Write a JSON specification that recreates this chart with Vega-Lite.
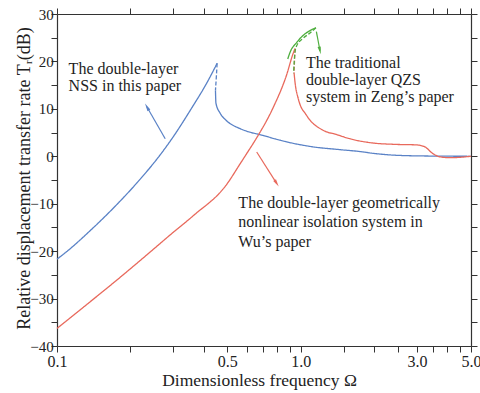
{
  "$schema": "https://vega.github.io/schema/vega-lite/v6.json",
  "width": 414,
  "height": 332,
  "autosize": {"type": "none"},
  "padding": {"left": 57, "top": 14, "right": 9, "bottom": 47},
  "background": "white",
  "config": {
    "view": {"stroke": null},
    "font": "Times New Roman, Liberation Serif, DejaVu Serif, serif",
    "axis": {"grid": false, "domainColor": "#333", "tickColor": "#333", "domainWidth": 1.2, "tickWidth": 1, "labelColor": "#222", "titleColor": "#222", "labelFont": "Times New Roman, Liberation Serif, DejaVu Serif, serif", "titleFont": "Times New Roman, Liberation Serif, DejaVu Serif, serif", "titleFontWeight": "normal"}
  },
  "datasets": {
    "curves": [
      {"curve": "NSS", "seg": "b1", "style": "solid", "order": 1, "omega": 0.1, "value": -21.7},
      {"curve": "NSS", "seg": "b1", "style": "solid", "order": 2, "omega": 0.1112, "value": -19.83},
      {"curve": "NSS", "seg": "b1", "style": "solid", "order": 3, "omega": 0.137, "value": -15.65},
      {"curve": "NSS", "seg": "b1", "style": "solid", "order": 4, "omega": 0.1733, "value": -10.53},
      {"curve": "NSS", "seg": "b1", "style": "solid", "order": 5, "omega": 0.213, "value": -5.58},
      {"curve": "NSS", "seg": "b1", "style": "solid", "order": 6, "omega": 0.265, "value": 0.29},
      {"curve": "NSS", "seg": "b1", "style": "solid", "order": 7, "omega": 0.3, "value": 4.12},
      {"curve": "NSS", "seg": "b1", "style": "solid", "order": 8, "omega": 0.355, "value": 9.97},
      {"curve": "NSS", "seg": "b1", "style": "solid", "order": 9, "omega": 0.413, "value": 15.57},
      {"curve": "NSS", "seg": "b1", "style": "solid", "order": 10, "omega": 0.454, "value": 19.6},
      {"curve": "NSS", "seg": "b2", "style": "dash", "order": 11, "omega": 0.454, "value": 19.6},
      {"curve": "NSS", "seg": "b2", "style": "dash", "order": 12, "omega": 0.451, "value": 17.0},
      {"curve": "NSS", "seg": "b2", "style": "dash", "order": 13, "omega": 0.447, "value": 13.9},
      {"curve": "NSS", "seg": "b3", "style": "solid", "order": 14, "omega": 0.447, "value": 13.9},
      {"curve": "NSS", "seg": "b3", "style": "solid", "order": 15, "omega": 0.449, "value": 11.2},
      {"curve": "NSS", "seg": "b3", "style": "solid", "order": 16, "omega": 0.467, "value": 9.1},
      {"curve": "NSS", "seg": "b3", "style": "solid", "order": 17, "omega": 0.494, "value": 7.6},
      {"curve": "NSS", "seg": "b3", "style": "solid", "order": 18, "omega": 0.56, "value": 5.9},
      {"curve": "NSS", "seg": "b3", "style": "solid", "order": 19, "omega": 0.6, "value": 5.3},
      {"curve": "NSS", "seg": "b3", "style": "solid", "order": 20, "omega": 0.7, "value": 4.4},
      {"curve": "NSS", "seg": "b3", "style": "solid", "order": 21, "omega": 0.82, "value": 3.4},
      {"curve": "NSS", "seg": "b3", "style": "solid", "order": 22, "omega": 1.12, "value": 2.0},
      {"curve": "NSS", "seg": "b3", "style": "solid", "order": 23, "omega": 1.45, "value": 1.4},
      {"curve": "NSS", "seg": "b3", "style": "solid", "order": 24, "omega": 1.75, "value": 1.0},
      {"curve": "NSS", "seg": "b3", "style": "solid", "order": 25, "omega": 2.0, "value": 0.6},
      {"curve": "NSS", "seg": "b3", "style": "solid", "order": 26, "omega": 2.5, "value": 0.2},
      {"curve": "NSS", "seg": "b3", "style": "solid", "order": 27, "omega": 3.4, "value": 0.05},
      {"curve": "NSS", "seg": "b3", "style": "solid", "order": 28, "omega": 5.0, "value": 0.0},
      {"curve": "Wu", "seg": "r1", "style": "solid", "order": 1, "omega": 0.1, "value": -36.3},
      {"curve": "Wu", "seg": "r1", "style": "solid", "order": 2, "omega": 0.1285, "value": -31.8},
      {"curve": "Wu", "seg": "r1", "style": "solid", "order": 3, "omega": 0.176, "value": -26.1},
      {"curve": "Wu", "seg": "r1", "style": "solid", "order": 4, "omega": 0.241, "value": -20.2},
      {"curve": "Wu", "seg": "r1", "style": "solid", "order": 5, "omega": 0.291, "value": -16.6},
      {"curve": "Wu", "seg": "r1", "style": "solid", "order": 6, "omega": 0.363, "value": -12.5},
      {"curve": "Wu", "seg": "r1", "style": "solid", "order": 7, "omega": 0.4975, "value": -5.9},
      {"curve": "Wu", "seg": "r1", "style": "solid", "order": 8, "omega": 0.564, "value": -1.6},
      {"curve": "Wu", "seg": "r1", "style": "solid", "order": 9, "omega": 0.601, "value": 0.6},
      {"curve": "Wu", "seg": "r1", "style": "solid", "order": 10, "omega": 0.66, "value": 3.9},
      {"curve": "Wu", "seg": "r1", "style": "solid", "order": 11, "omega": 0.77, "value": 10.2},
      {"curve": "Wu", "seg": "r1", "style": "solid", "order": 12, "omega": 0.876, "value": 17.2},
      {"curve": "Wu", "seg": "r1", "style": "solid", "order": 13, "omega": 0.93, "value": 21.6},
      {"curve": "Wu", "seg": "r1", "style": "solid", "order": 14, "omega": 0.948, "value": 22.7},
      {"curve": "Wu", "seg": "r2", "style": "dash", "order": 15, "omega": 0.948, "value": 22.7},
      {"curve": "Wu", "seg": "r2", "style": "dash", "order": 16, "omega": 0.939, "value": 17.7},
      {"curve": "Wu", "seg": "r3", "style": "solid", "order": 17, "omega": 0.939, "value": 17.7},
      {"curve": "Wu", "seg": "r3", "style": "solid", "order": 18, "omega": 0.948, "value": 15.6},
      {"curve": "Wu", "seg": "r3", "style": "solid", "order": 19, "omega": 0.978, "value": 12.1},
      {"curve": "Wu", "seg": "r3", "style": "solid", "order": 20, "omega": 1.058, "value": 8.6},
      {"curve": "Wu", "seg": "r3", "style": "solid", "order": 21, "omega": 1.234, "value": 5.5},
      {"curve": "Wu", "seg": "r3", "style": "solid", "order": 22, "omega": 1.4, "value": 4.6},
      {"curve": "Wu", "seg": "r3", "style": "solid", "order": 23, "omega": 1.59, "value": 3.7},
      {"curve": "Wu", "seg": "r3", "style": "solid", "order": 24, "omega": 1.98, "value": 2.8},
      {"curve": "Wu", "seg": "r3", "style": "solid", "order": 25, "omega": 2.48, "value": 2.5},
      {"curve": "Wu", "seg": "r3", "style": "solid", "order": 26, "omega": 2.99, "value": 2.4},
      {"curve": "Wu", "seg": "r3", "style": "solid", "order": 27, "omega": 3.23, "value": 2.0},
      {"curve": "Wu", "seg": "r3", "style": "solid", "order": 28, "omega": 3.48, "value": 0.6},
      {"curve": "Wu", "seg": "r3", "style": "solid", "order": 29, "omega": 3.72, "value": -0.1},
      {"curve": "Wu", "seg": "r3", "style": "solid", "order": 30, "omega": 4.09, "value": -0.3},
      {"curve": "Wu", "seg": "r3", "style": "solid", "order": 31, "omega": 5.0, "value": 0.0},
      {"curve": "Zeng", "seg": "g1", "style": "solid", "order": 1, "omega": 0.885, "value": 20.5},
      {"curve": "Zeng", "seg": "g1", "style": "solid", "order": 2, "omega": 0.904, "value": 21.9},
      {"curve": "Zeng", "seg": "g1", "style": "solid", "order": 3, "omega": 0.963, "value": 24.0},
      {"curve": "Zeng", "seg": "g1", "style": "solid", "order": 4, "omega": 1.025, "value": 25.5},
      {"curve": "Zeng", "seg": "g1", "style": "solid", "order": 5, "omega": 1.092, "value": 26.5},
      {"curve": "Zeng", "seg": "g1", "style": "solid", "order": 6, "omega": 1.155, "value": 27.1},
      {"curve": "Zeng", "seg": "g2", "style": "dash", "order": 7, "omega": 1.155, "value": 27.1},
      {"curve": "Zeng", "seg": "g2", "style": "dash", "order": 8, "omega": 1.092, "value": 26.0},
      {"curve": "Zeng", "seg": "g2", "style": "dash", "order": 9, "omega": 1.02, "value": 24.8},
      {"curve": "Zeng", "seg": "g2", "style": "dash", "order": 10, "omega": 0.963, "value": 23.3},
      {"curve": "Zeng", "seg": "g2", "style": "dash", "order": 11, "omega": 0.948, "value": 22.0},
      {"curve": "Zeng", "seg": "g2", "style": "dash", "order": 12, "omega": 0.935, "value": 17.5}
    ],
    "arrows": [
      {"curve": "NSS", "omega": 0.278, "value": 3.7, "omega2": 0.234, "value2": 10.4, "heading": 330},
      {"curve": "Wu", "omega": 0.66, "value": 0.9, "omega2": 0.797, "value2": -5.7, "heading": 148},
      {"curve": "Zeng", "omega": 1.16, "value": 26.3, "omega2": 1.2, "value2": 22.3, "heading": 168}
    ],
    "notes": [
      {"text": "The double-layer", "omega": 0.1116, "value": 17.35},
      {"text": "NSS in this paper", "omega": 0.1116, "value": 13.75},
      {"text": "The traditional", "omega": 1.051, "value": 18.6},
      {"text": "double-layer QZS", "omega": 1.051, "value": 15.05},
      {"text": "system in Zeng’s paper", "omega": 1.051, "value": 11.5},
      {"text": "The double-layer geometrically", "omega": 0.555, "value": -10.84},
      {"text": "nonlinear isolation system in", "omega": 0.555, "value": -14.95},
      {"text": "Wu’s paper", "omega": 0.555, "value": -19.05}
    ]
  },
  "resolve": {"axis": {"x": "independent", "y": "independent"}},
  "layer": [
    {
      "data": {"name": "curves"},
      "mark": {"type": "line", "strokeWidth": 1.3, "interpolate": "monotone"},
      "encoding": {
        "x": {
          "field": "omega", "type": "quantitative",
          "scale": {"type": "log", "domain": [0.1, 5], "nice": false},
          "axis": {
            "orient": "bottom",
            "values": [0.1, 0.2, 0.3, 0.4, 0.5, 0.6, 0.7, 0.8, 0.9, 1, 1.5, 2, 2.5, 3, 3.5, 4, 4.5, 5],
            "format": ".1f",
            "labelExpr": "indexof([0.1, 0.5, 1, 3, 5], datum.value) >= 0 ? datum.label : ''",
            "labelOverlap": false,
            "labelFlush": false,
            "tickSize": 6,
            "labelPadding": 14,
            "labelBaseline": "alphabetic",
            "labelFontSize": 16,
            "title": "Dimensionless frequency Ω",
            "titleFontSize": 17.5,
            "titleX": 202,
            "titleY": 39,
            "titleAlign": "center",
            "titleBaseline": "alphabetic",
            "encode": {"ticks": {"y2": {"condition": {"test": "indexof([0.1, 0.5, 1, 3, 5], datum.value) >= 0", "value": -6}, "value": -3}}}
          }
        },
        "y": {
          "field": "value", "type": "quantitative",
          "scale": {"domain": [-40, 30], "nice": false},
          "axis": {
            "orient": "left",
            "values": [-40, -35, -30, -25, -20, -15, -10, -5, 0, 5, 10, 15, 20, 25, 30],
            "labelExpr": "datum.value % 10 === 0 ? datum.label : ''",
            "labelOverlap": false,
            "labelFlush": false,
            "tickSize": 6,
            "labelPadding": -2.3,
            "labelFontSize": 15,
            "title": "Relative displacement transfer rate Tᵣ(dB)",
            "titleFontSize": 18,
            "titleAngle": -90,
            "titleX": -28,
            "titleY": 164,
            "titleAlign": "center",
            "titleBaseline": "alphabetic",
            "encode": {"ticks": {"x2": {"condition": {"test": "datum.value % 10 === 0", "value": 6}, "value": 3}}}
          }
        },
        "color": {"field": "curve", "type": "nominal", "scale": {"domain": ["NSS", "Wu", "Zeng"], "range": ["#5a82c6", "#e8695c", "#4fae3f"]}, "legend": null},
        "strokeDash": {"field": "style", "type": "nominal", "scale": {"domain": ["solid", "dash"], "range": [[1, 0], [4, 2]]}, "legend": null},
        "detail": {"field": "seg", "type": "nominal"},
        "order": {"field": "order", "type": "quantitative"}
      }
    },
    {
      "data": {"name": "arrows"},
      "mark": {"type": "rule", "strokeWidth": 1.2},
      "encoding": {
        "x": {
          "field": "omega", "type": "quantitative",
          "scale": {"type": "log", "domain": [0.1, 5], "nice": false},
          "axis": {
            "orient": "top",
            "values": [0.1, 0.2, 0.3, 0.4, 0.5, 0.6, 0.7, 0.8, 0.9, 1, 1.5, 2, 2.5, 3, 3.5, 4, 4.5, 5],
            "labels": false,
            "title": null,
            "tickSize": 6,
            "encode": {"ticks": {"y2": {"condition": {"test": "indexof([0.1, 0.5, 1, 3, 5], datum.value) >= 0", "value": 6}, "value": 3}}}
          }
        },
        "x2": {"field": "omega2"},
        "y": {
          "field": "value", "type": "quantitative",
          "scale": {"domain": [-40, 30], "nice": false},
          "axis": {
            "orient": "right",
            "values": [-40, -35, -30, -25, -20, -15, -10, -5, 0, 5, 10, 15, 20, 25, 30],
            "labels": false,
            "title": null,
            "tickSize": 6,
            "encode": {"ticks": {"x2": {"condition": {"test": "datum.value % 10 === 0", "value": -6}, "value": -3}}}
          }
        },
        "y2": {"field": "value2"},
        "color": {"field": "curve", "type": "nominal", "legend": null}
      }
    },
    {
      "data": {"name": "arrows"},
      "mark": {"type": "point", "shape": "M0,-1L0.42,1L-0.42,1Z", "filled": true, "opacity": 1, "size": 60},
      "encoding": {
        "x": {"field": "omega2", "type": "quantitative", "scale": {"type": "log", "domain": [0.1, 5], "nice": false}, "axis": null},
        "y": {"field": "value2", "type": "quantitative", "scale": {"domain": [-40, 30], "nice": false}, "axis": null},
        "angle": {"field": "heading", "type": "quantitative", "scale": null},
        "color": {"field": "curve", "type": "nominal", "legend": null}
      }
    },
    {
      "data": {"name": "notes"},
      "mark": {"type": "text", "align": "left", "baseline": "alphabetic", "fontSize": 16, "color": "#1e1e1e"},
      "encoding": {
        "x": {"field": "omega", "type": "quantitative", "scale": {"type": "log", "domain": [0.1, 5], "nice": false}, "axis": null},
        "y": {"field": "value", "type": "quantitative", "scale": {"domain": [-40, 30], "nice": false}, "axis": null},
        "text": {"field": "text", "type": "nominal"}
      }
    }
  ]
}
